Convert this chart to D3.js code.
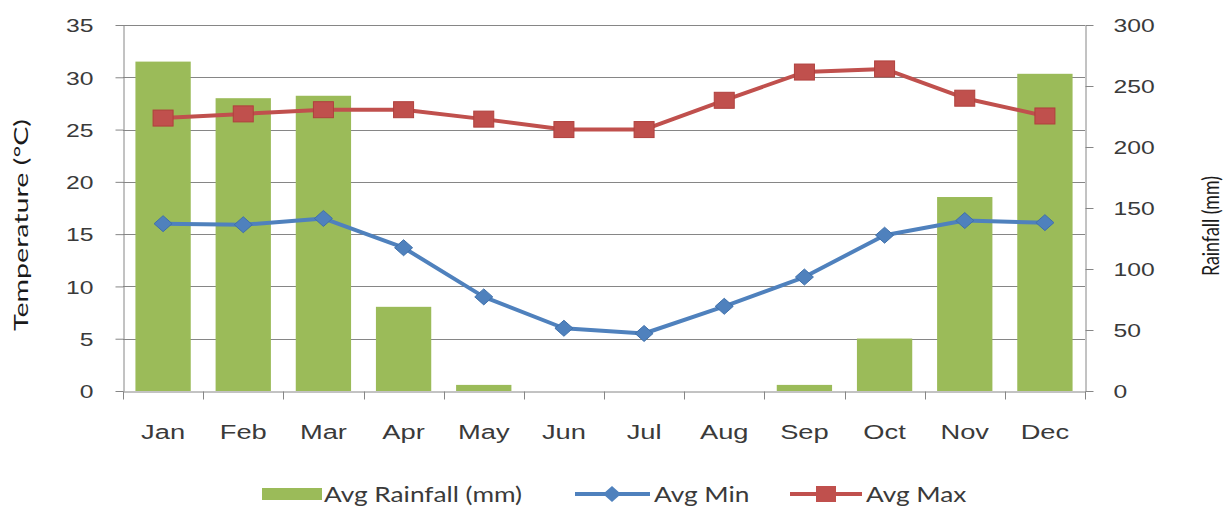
<!DOCTYPE html>
<html>
<head>
<meta charset="utf-8">
<script src="https://cdn.jsdelivr.net/npm/d3@7"></script>
<style>
  html, body { margin: 0; padding: 0; background: #fff; }
  svg { display: block; font-family: Lato, "Open Sans", sans-serif; }
</style>
</head>
<body>
<svg id="chart" width="1225" height="506"></svg>
<script>
// Monthly climate data
const months = ["Jan", "Feb", "Mar", "Apr", "May", "Jun", "Jul", "Aug", "Sep", "Oct", "Nov", "Dec"];
const rainfall = [270, 240, 242, 69, 5, 0, 0, 0, 5, 43, 159, 260];
const avgMin = [16.0, 15.9, 16.5, 13.7, 9.0, 6.0, 5.5, 8.1, 10.9, 14.9, 16.3, 16.1];
const avgMax = [26.1, 26.5, 26.9, 26.9, 26.0, 25.0, 25.0, 27.8, 30.5, 30.8, 28.0, 26.3];
const tempTicks = [0, 5, 10, 15, 20, 25, 30, 35];
const rainTicks = [0, 50, 100, 150, 200, 250, 300];

const svg = d3.select("#chart");
const plot = { left: 123, right: 1085, top: 25, bottom: 391 };
const SX = 1.3;               // horizontal text stretch
const axisColor = "#868686";
const textColor = "#3a3a3a";

const x = d3.scaleBand().domain(months).range([plot.left, plot.right])
  .paddingInner(0.31).paddingOuter(0.155);
const cx = m => x(m) + x.bandwidth() / 2;
const yT = d3.scaleLinear().domain([0, 35]).range([plot.bottom, plot.top]);
const yR = d3.scaleLinear().domain([0, 300]).range([plot.bottom, plot.top]);

// horizontal gridlines on the temperature scale
svg.append("g")
  .selectAll("line")
  .data(tempTicks.filter(d => d > 0))
  .join("line")
  .attr("x1", plot.left).attr("x2", plot.right)
  .attr("y1", d => Math.round(yT(d)) + 0.5).attr("y2", d => Math.round(yT(d)) + 0.5)
  .attr("stroke", axisColor).attr("stroke-width", 1);

// rainfall bars on the secondary axis
svg.append("g")
  .selectAll("rect")
  .data(months.map((m, i) => ({ m, v: rainfall[i] })))
  .join("rect")
  .attr("x", d => x(d.m))
  .attr("width", x.bandwidth())
  .attr("y", d => yR(d.v))
  .attr("height", d => plot.bottom - yR(d.v))
  .attr("fill", "#9bbb59");

// axes
function styleAxis(g) {
  g.select(".domain").attr("stroke", axisColor);
  g.selectAll(".tick line").attr("stroke", axisColor);
  g.selectAll(".tick text").attr("fill", textColor);
}

const leftAxis = svg.append("g")
  .attr("transform", `translate(${plot.left + 0.5},0)`)
  .call(d3.axisLeft(yT).tickValues(tempTicks).tickSize(8).tickSizeOuter(0));
leftAxis.call(styleAxis);
leftAxis.selectAll(".tick text")
  .attr("font-size", 19).attr("x", -30 / SX).attr("dy", "0.36em")
  .attr("transform", `scale(${SX},1)`);

const rightAxis = svg.append("g")
  .attr("transform", `translate(${plot.right + 0.5},0)`)
  .call(d3.axisRight(yR).tickValues(rainTicks).tickSize(8).tickSizeOuter(0));
rightAxis.call(styleAxis);
rightAxis.selectAll(".tick text")
  .attr("font-size", 19).attr("x", 28 / SX).attr("dy", "0.36em")
  .attr("transform", `scale(${SX},1)`);

const bottomAxis = svg.append("g")
  .attr("transform", `translate(0,${plot.bottom + 0.5})`)
  .call(d3.axisBottom(x).tickSize(0).tickSizeOuter(0));
bottomAxis.call(styleAxis);
bottomAxis.selectAll(".tick text")
  .attr("font-size", 21).attr("y", 48).attr("dy", 0)
  .attr("transform", `scale(${SX},1)`);
// tick marks at category boundaries
bottomAxis.append("g")
  .selectAll("line")
  .data(months.concat(["end"]))
  .join("line")
  .attr("x1", (d, i) => Math.round(i < months.length ? x(d) - x.step() * x.paddingInner() / 2 : plot.right) + 0.5)
  .attr("x2", (d, i) => Math.round(i < months.length ? x(d) - x.step() * x.paddingInner() / 2 : plot.right) + 0.5)
  .attr("y1", 0).attr("y2", 8)
  .attr("stroke", axisColor);

// axis titles
svg.append("text")
  .attr("transform", `translate(28,${(plot.top + plot.bottom) / 2 + 17}) rotate(-90)`)
  .attr("text-anchor", "middle")
  .attr("font-size", 20)
  .attr("fill", "#1a1a1a")
  .attr("textLength", 212).attr("lengthAdjust", "spacingAndGlyphs")
  .text("Temperature (°C)");

svg.append("text")
  .attr("transform", `translate(1219,${(plot.top + plot.bottom) / 2 + 18}) rotate(-90)`)
  .attr("text-anchor", "middle")
  .attr("font-size", 24)
  .attr("fill", "#1a1a1a")
  .attr("textLength", 100).attr("lengthAdjust", "spacingAndGlyphs")
  .text("Rainfall (mm)");

// temperature lines
const line = d3.line().x((d, i) => cx(months[i])).y(d => yT(d));

svg.append("path").datum(avgMin)
  .attr("d", line).attr("fill", "none")
  .attr("stroke", "#4f81bd").attr("stroke-width", 4).attr("stroke-linejoin", "round");
svg.append("path").datum(avgMax)
  .attr("d", line).attr("fill", "none")
  .attr("stroke", "#c0504d").attr("stroke-width", 4).attr("stroke-linejoin", "round");

const diamond = (w, h) => `M0,${-h}L${w},0L0,${h}L${-w},0Z`;

svg.append("g")
  .selectAll("path")
  .data(avgMin)
  .join("path")
  .attr("transform", (d, i) => `translate(${cx(months[i])},${yT(d)})`)
  .attr("d", diamond(9, 8))
  .attr("fill", "#4f81bd").attr("stroke", "#3f70ab").attr("stroke-width", 1);

svg.append("g")
  .selectAll("rect")
  .data(avgMax)
  .join("rect")
  .attr("x", (d, i) => cx(months[i]) - 10)
  .attr("y", d => yT(d) - 8)
  .attr("width", 20).attr("height", 16)
  .attr("fill", "#c0504d").attr("stroke", "#b0403d").attr("stroke-width", 1);

// legend
const legendY = 494;
const legend = svg.append("g");
legend.append("rect").attr("x", 262).attr("y", legendY - 6).attr("width", 60).attr("height", 12).attr("fill", "#9bbb59");
legend.append("line").attr("x1", 575).attr("x2", 650).attr("y1", legendY).attr("y2", legendY)
  .attr("stroke", "#4f81bd").attr("stroke-width", 4);
legend.append("path").attr("transform", `translate(612,${legendY})`).attr("d", diamond(9, 8)).attr("fill", "#4f81bd");
legend.append("line").attr("x1", 790).attr("x2", 862).attr("y1", legendY).attr("y2", legendY)
  .attr("stroke", "#c0504d").attr("stroke-width", 4);
legend.append("rect").attr("x", 816).attr("y", legendY - 8).attr("width", 20).attr("height", 16).attr("fill", "#c0504d");

const legendItems = [
  { label: "Avg Rainfall (mm)", x: 324 },
  { label: "Avg Min", x: 654 },
  { label: "Avg Max", x: 866 }
];
legend.selectAll("text.lbl")
  .data(legendItems)
  .join("text")
  .attr("class", "lbl")
  .attr("transform", d => `translate(${d.x},${legendY + 8}) scale(1.25,1)`)
  .attr("font-size", 21)
  .attr("fill", textColor)
  .text(d => d.label);
</script>
</body>
</html>
